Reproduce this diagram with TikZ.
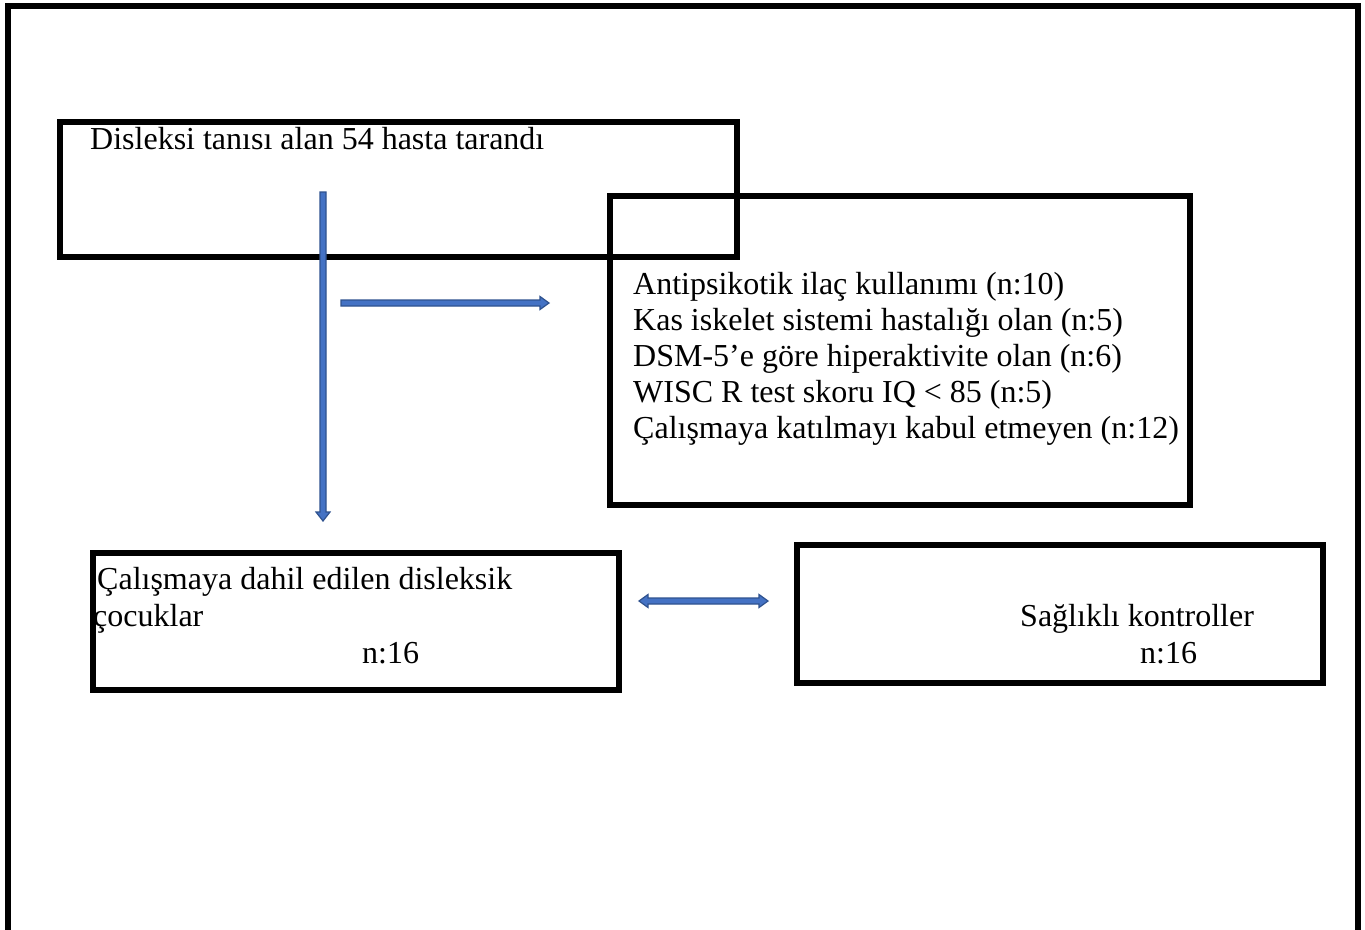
\documentclass[tikz,border=0pt]{standalone}
\usepackage{fontspec}
\setmainfont{Liberation Serif}
\usetikzlibrary{calc}
\definecolor{arrowfill}{HTML}{4472C4}
\definecolor{arrowline}{HTML}{2F528F}
\begin{document}
\begin{tikzpicture}[x=1pt,y=-1pt,
  box/.style={draw=black, line width=6pt, inner sep=0pt, outer sep=0pt, anchor=north west},
  txt/.style={anchor=base west, inner sep=0pt, font=\fontsize{32}{36}\selectfont},
  arr/.style={fill=arrowfill, draw=arrowline, line width=1.2pt, line join=miter},
]
\useasboundingbox (0,0) rectangle (1365,929);
\fill[white] (0,0) rectangle (1365,929);
% outer frame
\draw[line width=6pt] (8,945) -- (8,5.5) -- (1358,5.5) -- (1358,945);

% boxes
\node[box, minimum width=677pt, minimum height=135pt] (b1) at (60,122) {};
\node[box, minimum width=580pt, minimum height=309pt] (b2) at (610,196) {};
\node[box, minimum width=526pt, minimum height=137pt] (b3) at (93,553) {};
\node[box, minimum width=526pt, minimum height=138pt] (b4) at (797,545) {};

% texts
\node[txt] (t1) at (90,149) {Disleksi tanısı alan 54 hasta tarandı};

\node[txt] (l1) at (633,294) {Antipsikotik ilaç kullanımı (n:10)};
\node[txt] (l2) at (633,330) {Kas iskelet sistemi hastalığı olan (n:5)};
\node[txt] (l3) at (633,366) {DSM-5’e göre hiperaktivite olan (n:6)};
\node[txt] (l4) at (633,402) {WISC R test skoru IQ < 85 (n:5)};
\node[txt] (l5) at (633,438) {Çalışmaya katılmayı kabul etmeyen (n:12)};

\node[txt] (c1) at (97,589) {Çalışmaya dahil edilen disleksik};
\node[txt] (c2) at (93,626) {çocuklar};
\node[txt] (c3) at (362,663) {n:16};

\node[txt] (s1) at (1020,626) {Sağlıklı kontroller};
\node[txt] (s2) at (1140,663) {n:16};

% arrows
\coordinate (v1) at (323,192);
\coordinate (v2) at (323,521);
\filldraw[arr] ($(v1)+(-3,0)$) -- ($(v2)+(-3,-9)$) -- ($(v2)+(-7,-9)$) -- (v2)
  -- ($(v2)+(7,-9)$) -- ($(v2)+(3,-9)$) -- ($(v1)+(3,0)$) -- cycle;

\coordinate (h1) at (341,303);
\coordinate (h2) at (549,303);
\filldraw[arr] ($(h1)+(0,-3)$) -- ($(h2)+(-9,-3)$) -- ($(h2)+(-9,-6.5)$) -- (h2)
  -- ($(h2)+(-9,6.5)$) -- ($(h2)+(-9,3)$) -- ($(h1)+(0,3)$) -- cycle;

\coordinate (d1) at (639,601);
\coordinate (d2) at (768,601);
\filldraw[arr] (d1) -- ($(d1)+(9,-6.5)$) -- ($(d1)+(9,-3)$) -- ($(d2)+(-9,-3)$)
  -- ($(d2)+(-9,-6.5)$) -- (d2) -- ($(d2)+(-9,6.5)$) -- ($(d2)+(-9,3)$)
  -- ($(d1)+(9,3)$) -- ($(d1)+(9,6.5)$) -- cycle;
\end{tikzpicture}
\end{document}
